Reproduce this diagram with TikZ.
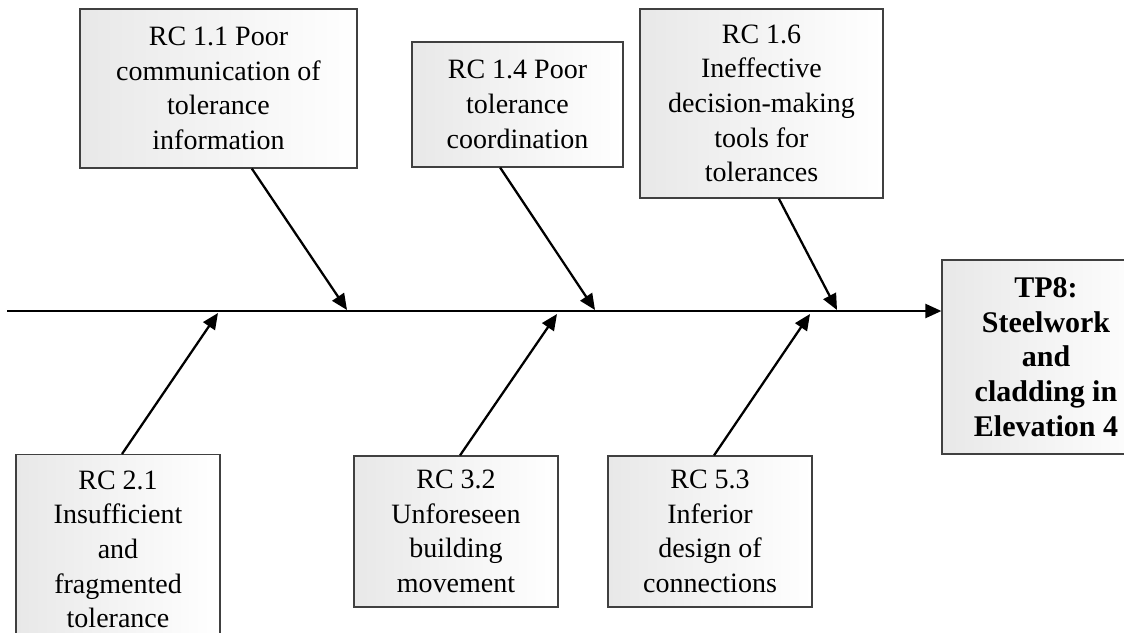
\documentclass[tikz,border=0pt]{standalone}
\usepackage{fontspec}
\setmainfont{Liberation Serif}
\usetikzlibrary{arrows.meta}

\begin{document}
\begin{tikzpicture}[x=0.75pt,y=-0.75pt]
  \tikzset{
    cause box/.style={
      draw=black!75,
      line width=0.9pt,
      left color=black!9,
      right color=white,
      align=center,
      inner sep=4pt,
      font=\fontsize{21}{26}\selectfont,
      minimum width=#1,
    },
    cause box/.default=153pt,
    bone/.style={
      line width=1.7pt,
      -{Triangle[length=12pt,width=10.5pt]},
    },
  }
  \useasboundingbox (0,0) rectangle (1124,632);

  % effect
  \node[cause box=156pt, minimum height=145.5pt, font=\fontsize{22.5}{26}\selectfont\bfseries]
    (tp8) at (1046,357) {TP8:\\Steelwork\\and\\cladding in\\Elevation 4};

  % causes above the spine
  \node[cause box=207.75pt, minimum height=119.25pt] (rc11) at (218.5,88.5)
    {RC 1.1 Poor\\communication of\\tolerance\\information};
  \node[cause box=158.25pt, minimum height=93.75pt] (rc14) at (517.5,104.5)
    {RC 1.4 Poor\\tolerance\\coordination};
  \node[cause box=182.25pt, minimum height=141.75pt] (rc16) at (761.5,103.5)
    {RC 1.6\\Ineffective\\decision-making\\tools for\\tolerances};

  % causes below the spine
  \node[cause box, inner ysep=12pt, anchor=north] (rc21) at (118,454)
    {RC 2.1\\Insufficient\\and\\fragmented\\tolerance};
  \node[cause box, minimum height=113.25pt] (rc32) at (456,531.5)
    {RC 3.2\\Unforeseen\\building\\movement};
  \node[cause box, minimum height=113.25pt] (rc53) at (710,531.5)
    {RC 5.3\\Inferior\\design of\\connections};

  % spine
  \coordinate (tail) at (7,311);
  \draw[bone] (tail) -- (tail -| tp8.west);

  % bones
  \coordinate (t11) at (347,310);
  \coordinate (t14) at (595,310);
  \coordinate (t16) at (837,310);
  \coordinate (t21) at (218,313);
  \coordinate (t32) at (557,314);
  \coordinate (t53) at (810,314);
  \draw[bone] ([xshift=25pt]rc11.south) -- (t11);
  \draw[bone] ([xshift=-13pt]rc14.south) -- (t14);
  \draw[bone] ([xshift=13pt]rc16.south) -- (t16);
  \draw[bone] ([xshift=3pt]rc21.north) -- (t21);
  \draw[bone] ([xshift=3pt]rc32.north) -- (t32);
  \draw[bone] ([xshift=3pt]rc53.north) -- (t53);
\end{tikzpicture}
\end{document}
